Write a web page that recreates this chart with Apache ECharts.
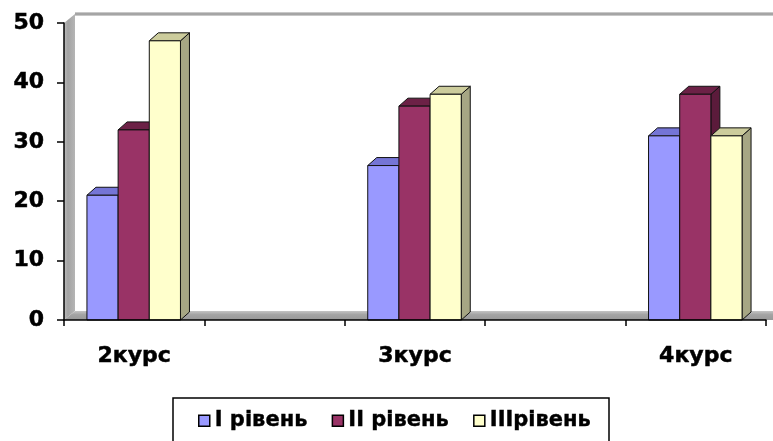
<!DOCTYPE html>
<html>
<head>
<meta charset="utf-8">
<script src="https://cdn.jsdelivr.net/npm/echarts@6/dist/echarts.min.js"></script>
<style>
  html, body { margin: 0; padding: 0; background: #ffffff; }
  #chart { width: 773px; height: 441px; }
</style>
</head>
<body>
<div id="chart"></div>
<script>
// Categories on the x axis (the empty slots keep the gaps between the courses)
const categories = ['2курс', '', '3курс', '', '4курс'];
const seriesNames = ['I рівень', 'II рівень', 'IIIрівень'];
const level1 = [21, null, 26, null, 31];
const level2 = [32, null, 36, null, 38];
const level3 = [47, null, 38, null, 31];
const yMin = 0, yMax = 50, yStep = 10;

const FONT = '"DejaVu Sans", "Liberation Sans", sans-serif';
const heavyText = { color: '#000', fontFamily: FONT, fontWeight: 'bold', fontSize: 22,
                    textBorderColor: '#000', textBorderWidth: 0.5 };

// Extrusion of the bars and of the walls/floor, in pixels
const DEPTH_X = 9, DEPTH_Y = 8;
const WALL_X = 11, WALL_Y = 9;
const BAR_FRAC = 0.222; // width of one bar as a share of a category band

const palette = [
  { front: '#9999ff', top: '#7575d6', side: '#6a6ab0' },
  { front: '#993366', top: '#6c2146', side: '#5b1b3b' },
  { front: '#ffffcc', top: '#cccc9c', side: '#a6a684' }
];

function toPairs(values) {
  return values.map((v, i) => [i, v]).filter(d => d[1] !== null);
}

function barRenderer(k) {
  return function (params, api) {
    const x = api.value(0), v = api.value(1);
    const base = api.coord([x, 0]);
    const top = api.coord([x, v]);
    const band = api.size([1, 0])[0];
    const w = band * BAR_FRAC;
    const x0 = base[0] - 0.5 + (k - 1.5) * w;
    const x1 = x0 + w;
    const yb = base[1], yt = top[1];
    const c = palette[k];
    const edge = { stroke: '#111', lineWidth: 1, lineJoin: 'round' };
    return {
      type: 'group',
      children: [
        { type: 'polygon', z2: k * 10,
          shape: { points: [[x1, yt], [x1 + DEPTH_X, yt - DEPTH_Y], [x1 + DEPTH_X, yb - DEPTH_Y], [x1, yb]] },
          style: Object.assign({ fill: c.side }, edge) },
        { type: 'polygon', z2: k * 10 + 1,
          shape: { points: [[x0, yt], [x0 + DEPTH_X, yt - DEPTH_Y], [x1 + DEPTH_X, yt - DEPTH_Y], [x1, yt]] },
          style: Object.assign({ fill: c.top }, edge) },
        { type: 'rect', z2: k * 10 + 2,
          shape: { x: x0, y: yt, width: w, height: yb - yt },
          style: Object.assign({ fill: c.front }, edge) }
      ]
    };
  };
}

// Grey side wall, floor and the top edge of the back wall
function wallRenderer(params) {
  const cs = params.coordSys;
  const L = cs.x, T = cs.y, R = cs.x + cs.width, B = cs.y + cs.height;
  return {
    type: 'group',
    children: [
      { type: 'polygon',
        shape: { points: [[L, B], [L, T], [L + WALL_X, T - WALL_Y], [L + WALL_X, B - WALL_Y]] },
        style: { fill: new echarts.graphic.LinearGradient(0, 0, 1, 0, [
          { offset: 0, color: '#bdbdbd' }, { offset: 0.35, color: '#a3a3a3' }, { offset: 1, color: '#b5b5b5' }]) } },
      { type: 'polygon',
        shape: { points: [[L, B], [R + WALL_X, B], [R + WALL_X, B - WALL_Y], [L + WALL_X, B - WALL_Y]] },
        style: { fill: new echarts.graphic.LinearGradient(0, 0, 0, 1, [
          { offset: 0, color: '#c4c4c4' }, { offset: 0.4, color: '#a4a4a4' }, { offset: 1, color: '#989898' }]) } },
      { type: 'line',
        shape: { x1: L + WALL_X, y1: T - WALL_Y, x2: R + WALL_X + 20, y2: T - WALL_Y },
        style: { stroke: '#c8c8c8', lineWidth: 4 } },
      { type: 'line',
        shape: { x1: L + WALL_X, y1: T - WALL_Y, x2: R + WALL_X + 20, y2: T - WALL_Y },
        style: { stroke: '#9a9a9a', lineWidth: 1.5 } }
    ]
  };
}

const levels = [level1, level2, level3];

const chart = echarts.init(document.getElementById('chart'), null, { renderer: 'canvas', devicePixelRatio: 1 });

chart.setOption({
  animation: false,
  backgroundColor: '#ffffff',
  grid: { left: 64, right: 7, top: 23, bottom: 121 },
  legend: {
    data: seriesNames,
    left: 173,
    top: 398,
    orient: 'horizontal',
    icon: 'rect',
    itemWidth: 11,
    itemHeight: 11,
    itemGap: 24,
    itemTextGap: 7,
    padding: [12, 18, 12, 25],
    borderColor: '#000',
    borderWidth: 1.5,
    itemStyle: { borderColor: '#000', borderWidth: 1.5 },
    textStyle: Object.assign({}, heavyText, { fontSize: 21, textBorderWidth: 0.4 })
  },
  xAxis: {
    type: 'category',
    data: categories,
    boundaryGap: true,
    z: 5,
    axisLine: { show: true, lineStyle: { color: '#000', width: 1.5 } },
    axisTick: { show: true, length: 6, interval: 0, lineStyle: { color: '#000', width: 1.5 } },
    axisLabel: Object.assign({ interval: 0, margin: 25 }, heavyText),
    splitLine: { show: false }
  },
  yAxis: {
    type: 'value',
    min: yMin,
    max: yMax,
    interval: yStep,
    z: 5,
    axisLine: { show: true, lineStyle: { color: '#000', width: 1.5 } },
    axisTick: { show: true, length: 7, lineStyle: { color: '#000', width: 1.5 } },
    axisLabel: Object.assign({ margin: 20, padding: [5, 0, 0, 0] }, heavyText),
    splitLine: { show: false }
  },
  series: [
    { type: 'custom', name: '__walls', silent: true, z: 1, renderItem: wallRenderer, data: [[0, 0]] }
  ].concat(levels.map((vals, k) => ({
    type: 'custom',
    name: seriesNames[k],
    z: 2,
    itemStyle: { color: palette[k].front, borderColor: '#000', borderWidth: 1.5 },
    encode: { x: 0, y: 1 },
    renderItem: barRenderer(k),
    data: toPairs(vals)
  })))
});
</script>
</body>
</html>
